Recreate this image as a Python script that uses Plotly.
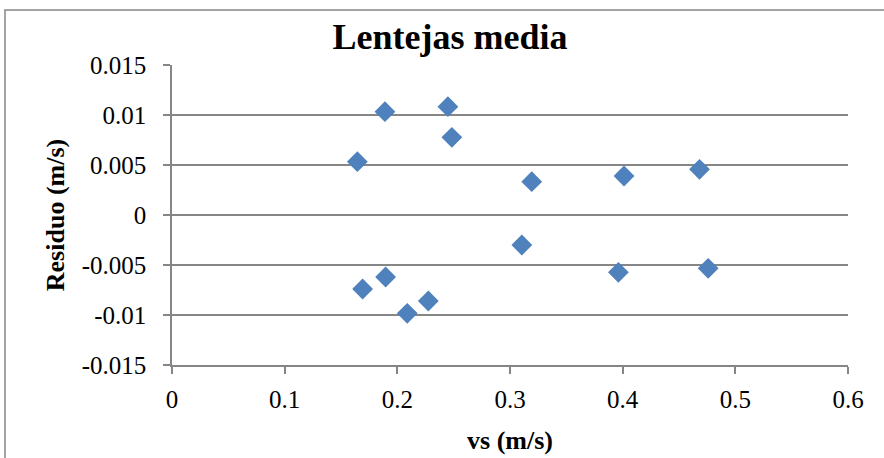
import plotly.graph_objects as go

vs = [0.1645, 0.189, 0.2449, 0.2484, 0.3193, 0.3105, 0.1692, 0.1896, 0.2088, 0.2275,
      0.4012, 0.4682, 0.3962, 0.4759]
residuo = [0.00533, 0.01033, 0.01083, 0.00777, 0.00333, -0.0030, -0.0074, -0.0062,
           -0.00983, -0.0086, 0.0039, 0.00457, -0.00573, -0.00533]

x_ticks = [0, 0.1, 0.2, 0.3, 0.4, 0.5, 0.6]
x_labels = ["0", "0.1", "0.2", "0.3", "0.4", "0.5", "0.6"]
y_ticks = [-0.015, -0.01, -0.005, 0, 0.005, 0.01, 0.015]
y_labels = ["-0.015", "-0.01", "-0.005", "0", "0.005", "0.01", "0.015"]

W, H = 884, 458
L, R, T, B = 172, 36, 65, 93
pw, ph = W - L - R, H - T - B

def px_x(p):
    return (p - L) / pw

def px_y(p):
    return (H - B - p) / ph

FONT = "Liberation Serif, Times New Roman, serif"
GRID = "#868686"

fig = go.Figure()
fig.add_trace(go.Scatter(
    x=vs, y=residuo, mode="markers",
    marker=dict(symbol="diamond", size=16, color="#4F81BD", line=dict(width=0)),
    showlegend=False,
))

fig.update_layout(
    width=W, height=H,
    margin=dict(l=L, r=R, t=T, b=B, autoexpand=False),
    paper_bgcolor="white", plot_bgcolor="white",
    font=dict(family=FONT, size=25, color="black"),
    title=dict(text="<b>Lentejas media</b>", font=dict(family=FONT, size=36, color="black"),
               x=450 / W, xanchor="center", xref="container",
               y=(H - 36) / H, yanchor="middle", yref="container"),
    xaxis=dict(
        range=[0, 0.6], tickvals=x_ticks, ticktext=x_labels,
        showgrid=False, zeroline=False, automargin=False,
        showline=True, linecolor=GRID, linewidth=1.5,
        ticks="outside", ticklen=7, tickcolor=GRID, tickwidth=1.5,
        ticklabelstandoff=4,
        title=dict(text="<b>vs (m/s)</b>", font=dict(family=FONT, size=26), standoff=19),
    ),
    yaxis=dict(
        range=[-0.015, 0.015], tickvals=y_ticks, ticktext=y_labels,
        showgrid=True, gridcolor=GRID, gridwidth=1.5,
        zeroline=False, automargin=False,
        showline=True, linecolor=GRID, linewidth=1.5,
        ticks="outside", ticklen=7, tickcolor=GRID, tickwidth=1.5,
        ticklabelstandoff=12,
        title=dict(text="<b>Residuo (m/s)</b>", font=dict(family=FONT, size=26), standoff=10),
    ),
    shapes=[dict(
        type="rect", xref="paper", yref="paper",
        x0=px_x(5), x1=px_x(895), y0=px_y(475), y1=px_y(10),
        line=dict(color=GRID, width=1.5), fillcolor="rgba(0,0,0,0)", layer="below",
    )],
)

fig.write_html("out.html", config={"displayModeBar": False},
               post_script="document.body.style.margin='0';document.body.style.overflow='hidden';")
